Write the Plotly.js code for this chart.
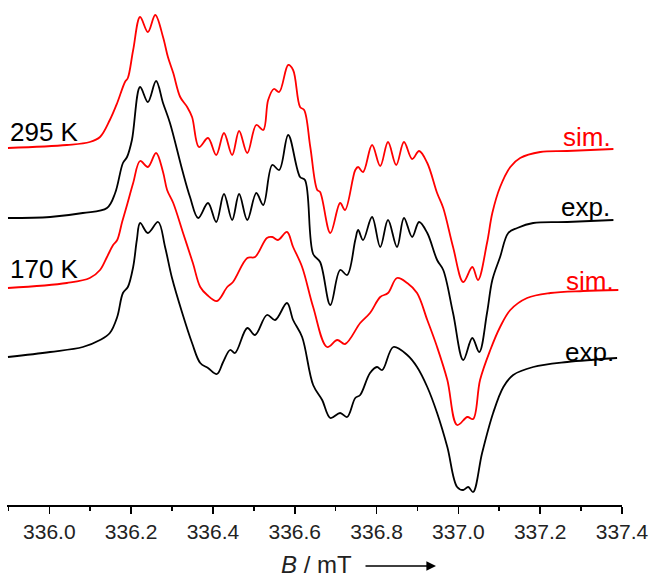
<!DOCTYPE html>
<html>
<head>
<meta charset="utf-8">
<script src="https://cdn.plot.ly/plotly-3.0.1.min.js"></script>
<style>html,body{margin:0;padding:0;background:#fff;}#chart{width:650px;height:577px;}</style>
</head>
<body>
<div id="chart"></div>
<script>
// Magnetic field (mT) and signal values (arb. units, relative to each trace's left baseline)
const sim295_B = [335.899,336.043,336.099,336.124,336.148,336.166,336.185,336.192,336.205,336.222,336.241,336.259,336.278,336.290,336.303,336.320,336.337,336.349,336.366,336.388,336.408,336.427,336.447,336.464,336.484,336.506,336.523,336.535,336.549,336.562,336.584,336.596,336.613,336.623,336.638,336.655,336.662,336.687,336.711,336.723,336.748,336.755,336.767,336.789,336.809,336.828,336.848,336.867,336.887,336.904,336.924,336.948,336.963,336.987,337.012,337.034,337.048,337.070,337.083,337.102,337.127,337.151,337.200,337.266,337.379];
const sim295_I = [0,3,6,11,28,45,66,70,98,131,116,133,111,91,75,51,41,31,1,10,-7,15,-7,17,-5,23,18,48,59,56,83,78,41,38,1,-42,-44,-85,-55,-62,-22,-19,-24,3,-18,6,-17,6,-11,-3,-15,-45,-60,-99,-134,-119,-132,-95,-65,-39,-19,-10,-4,-3,-1];

const exp295_B = [335.899,336.002,336.082,336.141,336.161,336.180,336.190,336.202,336.222,336.241,336.261,336.278,336.295,336.325,336.344,336.364,336.388,336.408,336.427,336.447,336.464,336.484,336.506,336.523,336.545,336.562,336.584,336.613,336.625,336.645,336.662,336.687,336.711,336.728,336.748,336.755,336.767,336.789,336.809,336.828,336.850,336.867,336.887,336.904,336.924,336.948,336.963,336.987,337.012,337.034,337.051,337.070,337.083,337.102,337.122,337.144,337.183,337.266,337.379];
const exp295_I = [0,1,5,10,25,55,61,78,131,116,137,115,95,48,21,0,15,-4,24,-2,24,-2,25,13,53,48,83,41,38,-36,-44,-87,-52,-57,-22,-12,-22,1,-29,-2,-29,0,-19,-4,-15,-42,-52,-95,-142,-120,-134,-95,-62,-39,-15,-10,-5,-4,-2];

const sim170_B = [335.899,336.043,336.099,336.124,336.141,336.156,336.166,336.178,336.190,336.205,336.222,336.241,336.261,336.278,336.288,336.303,336.327,336.351,336.369,336.386,336.410,336.435,336.449,336.484,336.503,336.532,336.545,336.559,336.581,336.596,336.618,336.645,336.679,336.704,336.723,336.760,336.784,336.809,336.828,336.850,336.875,336.899,336.924,336.948,336.973,336.997,337.022,337.036,337.053,337.078,337.102,337.127,337.168,337.225,337.305,337.391];
const sim170_I = [0,5,10,18,31,43,48,66,83,105,127,121,135,116,98,85,55,25,1,-7,-13,1,6,30,31,50,51,48,56,41,21,-19,-59,-52,-56,-35,-25,-9,-5,10,5,-5,-32,-59,-92,-137,-129,-131,-92,-62,-39,-22,-10,-5,-3,-2];

const exp170_B = [335.899,336.002,336.082,336.124,336.148,336.166,336.180,336.192,336.205,336.214,336.222,336.241,336.266,336.283,336.300,336.325,336.349,336.369,336.388,336.410,336.425,336.442,336.454,336.484,336.503,336.532,336.552,336.581,336.596,336.618,336.645,336.667,336.687,336.711,336.728,336.748,336.760,336.784,336.801,336.814,336.841,336.875,336.899,336.924,336.948,336.973,336.997,337.012,337.024,337.036,337.058,337.085,337.110,337.134,337.183,337.266,337.388];
const exp170_I = [0,5,10,17,24,40,64,70,90,117,134,124,135,110,79,44,14,-6,-11,-17,-5,7,4,29,22,42,37,54,37,20,-28,-43,-61,-56,-60,-41,-38,-16,-10,-13,10,2,-10,-30,-56,-90,-130,-133,-130,-135,-96,-56,-30,-18,-10,-5,-1];

const traceOffsets = [357, 287, 217, 148];
const traceColors = ['#ff0000', '#000000', '#ff0000', '#000000'];

const series = [[sim295_B, sim295_I],[exp295_B, exp295_I],[sim170_B, sim170_I],[exp170_B, exp170_I]];
const font = 'Liberation Sans, Arial, sans-serif';

const data = series.map((s, i) => ({
  x: s[0],
  y: s[1].map(v => v + traceOffsets[i]),
  type: 'scatter',
  mode: 'lines',
  line: {color: traceColors[i], width: 1.8, shape: 'spline', smoothing: 1},
  hoverinfo: 'skip',
  showlegend: false
}));

const lab = (text, x, y, anchor, color) => ({
  text: text, x: x, y: y, xref: 'x', yref: 'y', xanchor: anchor, yanchor: 'middle',
  showarrow: false, font: {family: font, size: 26, color: color}
});

const layout = {
  width: 650, height: 577,
  margin: {l: 7, r: 28, t: 0, b: 72},
  paper_bgcolor: '#ffffff', plot_bgcolor: '#ffffff',
  showlegend: false,
  xaxis: {
    range: [335.8966, 337.4],
    showgrid: false, zeroline: false,
    showline: true, linecolor: '#000', linewidth: 1.6,
    ticks: 'outside', ticklen: 7, tickwidth: 1.6, tickcolor: '#000',
    tick0: 336.0, dtick: 0.2, tickformat: '.1f',
    minor: {dtick: 0.1, tick0: 335.9, ticks: 'outside', ticklen: 4, tickwidth: 1.6, tickcolor: '#000'},
    tickfont: {family: font, size: 21, color: '#222'},
    fixedrange: true
  },
  yaxis: {range: [0, 505], visible: false, fixedrange: true},
  annotations: [
    lab('295 K', 335.899, 373, 'left', '#000'),
    lab('170 K', 335.899, 236, 'left', '#000'),
    lab('sim.', 337.378, 368, 'right', '#ff0000'),
    lab('exp.', 337.376, 298, 'right', '#000'),
    lab('sim.', 337.385, 224, 'right', '#ff0000'),
    lab('exp.', 337.385, 153, 'right', '#000'),
    {text: '<i>B</i> / mT', xref: 'paper', yref: 'paper', x: (316 - 7) / 615, y: -(564 - 505) / 505,
     xanchor: 'center', yanchor: 'middle', showarrow: false,
     font: {family: font, size: 24, color: '#222'}},
    {text: '', xref: 'paper', yref: 'paper', x: (436 - 7) / 615, y: -(566 - 505) / 505,
     ax: -72, ay: 0, showarrow: true, arrowhead: 2, arrowsize: 1.2, arrowwidth: 1.6, arrowcolor: '#000'}
  ]
};

Plotly.newPlot('chart', data, layout, {displayModeBar: false, staticPlot: true});
</script>
</body>
</html>
